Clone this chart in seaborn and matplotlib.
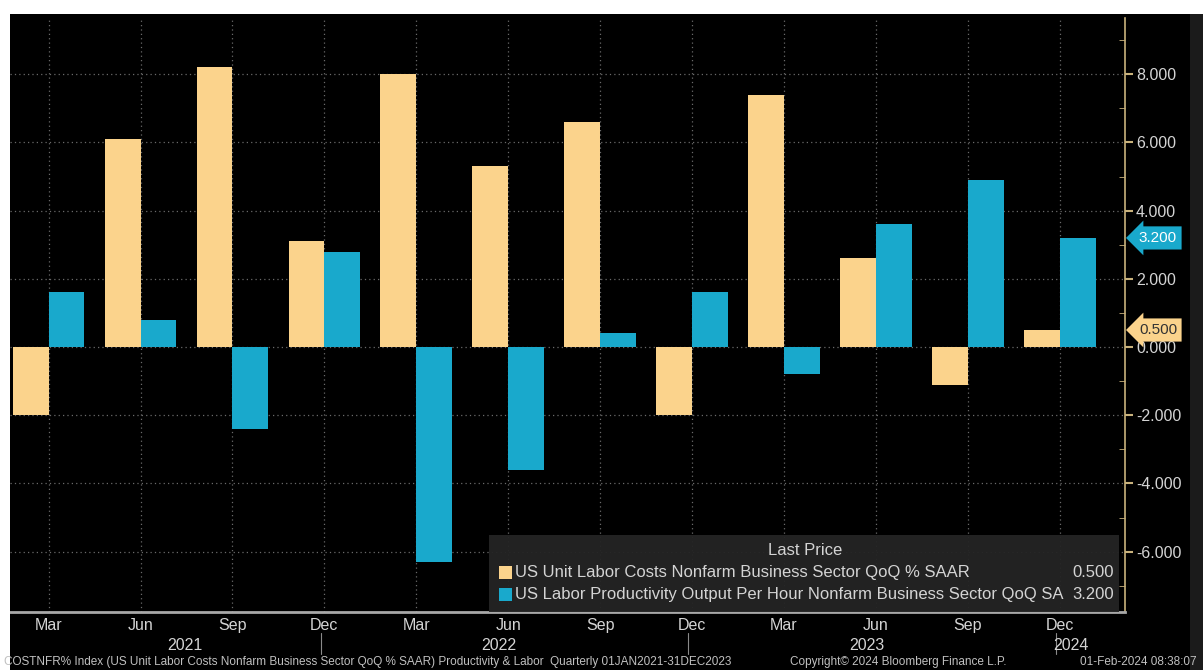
import pandas as pd
import matplotlib
import matplotlib.pyplot as plt
import seaborn as sns
from matplotlib.patches import Rectangle
from matplotlib.ticker import FixedLocator, FormatStrFormatter
import matplotlib.transforms as mtransforms

matplotlib.use('Agg')

# Quarterly data, Q1 2021 .. Q4 2023
quarters = ["2021Q1", "2021Q2", "2021Q3", "2021Q4",
            "2022Q1", "2022Q2", "2022Q3", "2022Q4",
            "2023Q1", "2023Q2", "2023Q3", "2023Q4"]
month_labels = ["Mar", "Jun", "Sep", "Dec"] * 3
unit_labor_costs = [-2.0, 6.1, 8.2, 3.1, 8.0, 5.3, 6.6, -2.0, 7.4, 2.6, -1.1, 0.5]
productivity = [1.6, 0.8, -2.4, 2.8, -6.3, -3.6, 0.4, 1.6, -0.8, 3.6, 4.9, 3.2]
series_names = ["US Unit Labor Costs Nonfarm Business Sector QoQ % SAAR",
                "US Labor Productivity Output Per Hour Nonfarm Business Sector QoQ SA"]
year_labels = ["2021", "2022", "2023", "2024"]
year_label_pos = [1.48, 4.9, 8.9, 11.12]
year_breaks = [2.96, 6.96, 10.96]

TAN = "#fbd38c"
CYAN = "#19a9cc"
TEXT = "#d4d4d4"

df = pd.DataFrame({
    "quarter": quarters * 2,
    "value": unit_labor_costs + productivity,
    "series": [series_names[0]] * len(quarters) + [series_names[1]] * len(quarters),
})

sns.set_style("dark")
plt.rcParams['font.family'] = ['Liberation Sans', 'DejaVu Sans']
plt.rcParams['axes.unicode_minus'] = False

fig = plt.figure(figsize=(12.03, 6.70), dpi=100, facecolor="black")
# white border strips + dark right edge like the screenshot
fig.patches.append(Rectangle((0, 1 - 14 / 670), 1, 14 / 670, transform=fig.transFigure, fc="white", ec="none", zorder=0))
fig.patches.append(Rectangle((0, 0), 10 / 1203, 1, transform=fig.transFigure, fc="white", ec="none", zorder=0))
fig.patches.append(Rectangle((1190 / 1203, 0), 13 / 1203, 1 - 14 / 670, transform=fig.transFigure, fc="#1b1b1b", ec="none", zorder=0))

ax = fig.add_axes([10 / 1203, 1 - 612 / 670, 1115 / 1203, 594 / 670])
ax.set_facecolor("black")

sns.barplot(data=df, x="quarter", y="value", hue="series", order=quarters,
            palette=[TAN, CYAN], width=0.78, saturation=1, ax=ax, legend=False,
            edgecolor="none", zorder=3)

ax.set_xlim(-0.42, 11.71)
ax.set_ylim(-7.77, 9.65)
ax.set_xlabel("")
ax.set_ylabel("")

# axes styling
for s in ["top", "left"]:
    ax.spines[s].set_visible(False)
ax.spines["right"].set_color("#c9b27c")
ax.spines["right"].set_linewidth(1.2)
ax.spines["bottom"].set_color("#a8a8a8")
ax.spines["bottom"].set_linewidth(2)

ax.yaxis.tick_right()
ax.yaxis.set_major_locator(FixedLocator([-6, -4, -2, 0, 2, 4, 6, 8]))
ax.yaxis.set_minor_locator(FixedLocator([-7, -5, -3, -1, 1, 3, 5, 7, 9]))
ax.yaxis.set_major_formatter(FormatStrFormatter("%.3f"))
ax.tick_params(axis="y", which="major", colors="#c9b27c", labelcolor=TEXT,
               labelsize=11.5, length=6, width=1.5, direction="out", pad=2)
ax.tick_params(axis="y", which="minor", colors="#c9b27c", length=4, direction="in")

ax.set_xticks(range(len(quarters)))
ax.set_xticklabels(month_labels)
ax.tick_params(axis="x", colors="#d8d8d8", labelcolor=TEXT, labelsize=11.5,
               length=3, width=2, direction="in", pad=4)

ax.grid(True, axis="both", color="#6a6a6a", linestyle=(0, (1, 2.5)), linewidth=0.9)
ax.set_axisbelow(True)

# year row under the month labels
trans = mtransforms.blended_transform_factory(ax.transData, ax.transAxes)
for label, pos in zip(year_labels, year_label_pos):
    ax.text(pos, -0.056, label, transform=trans, ha="center", va="center",
            color=TEXT, fontsize=11.5, clip_on=False)
for pos in year_breaks:
    ax.plot([pos, pos], [-0.036, -0.07], transform=trans, color="#8a8a8a",
            linewidth=0.8, clip_on=False)

# last value tags on the right axis
for val, fc, tc in [(productivity[-1], CYAN, "white"), (unit_labor_costs[-1], TAN, "#333333")]:
    ax.annotate(f"{val:.3f}", xy=(1.0, val), xycoords=("axes fraction", "data"),
                xytext=(10, 0), textcoords="offset points", ha="left", va="center",
                fontsize=11, color=tc, annotation_clip=False,
                bbox=dict(boxstyle="larrow,pad=0.3", fc=fc, ec="none"))

# legend box
ax.add_patch(Rectangle((0.43, 0.0), 0.565, 0.13, transform=ax.transAxes,
                       fc="#242424", ec="none", zorder=5, alpha=0.95))
ax.text(0.713, 0.103, "Last Price", transform=ax.transAxes, ha="center", va="center",
        color=TEXT, fontsize=12, zorder=6)
for i, (name, color, last) in enumerate(zip(series_names, [TAN, CYAN],
                                            [unit_labor_costs[-1], productivity[-1]])):
    yy = 0.067 - i * 0.037
    ax.add_patch(Rectangle((0.439, yy - 0.011), 0.011, 0.022, transform=ax.transAxes,
                           fc=color, ec="none", zorder=6))
    ax.text(0.453, yy, name, transform=ax.transAxes, ha="left", va="center",
            color=TEXT, fontsize=12, zorder=6)
    ax.text(0.99, yy, f"{last:.3f}", transform=ax.transAxes, ha="right", va="center",
            color=TEXT, fontsize=12, zorder=6)

# footer
fig.text(0.003, 0.012, "COSTNFR% Index (US Unit Labor Costs Nonfarm Business Sector QoQ % SAAR) "
         "Productivity & Labor  Quarterly 01JAN2021-31DEC2023",
         color="#c0c0c0", fontsize=8.5, ha="left", va="center")
fig.text(0.657, 0.012, "Copyright\u00a9 2024 Bloomberg Finance L.P.", color="#c0c0c0",
         fontsize=8.5, ha="left", va="center")
fig.text(0.995, 0.012, "01-Feb-2024 08:38:07", color="#c0c0c0", fontsize=8.5,
         ha="right", va="center")

fig.savefig("out.png", dpi=100, facecolor=fig.get_facecolor())
